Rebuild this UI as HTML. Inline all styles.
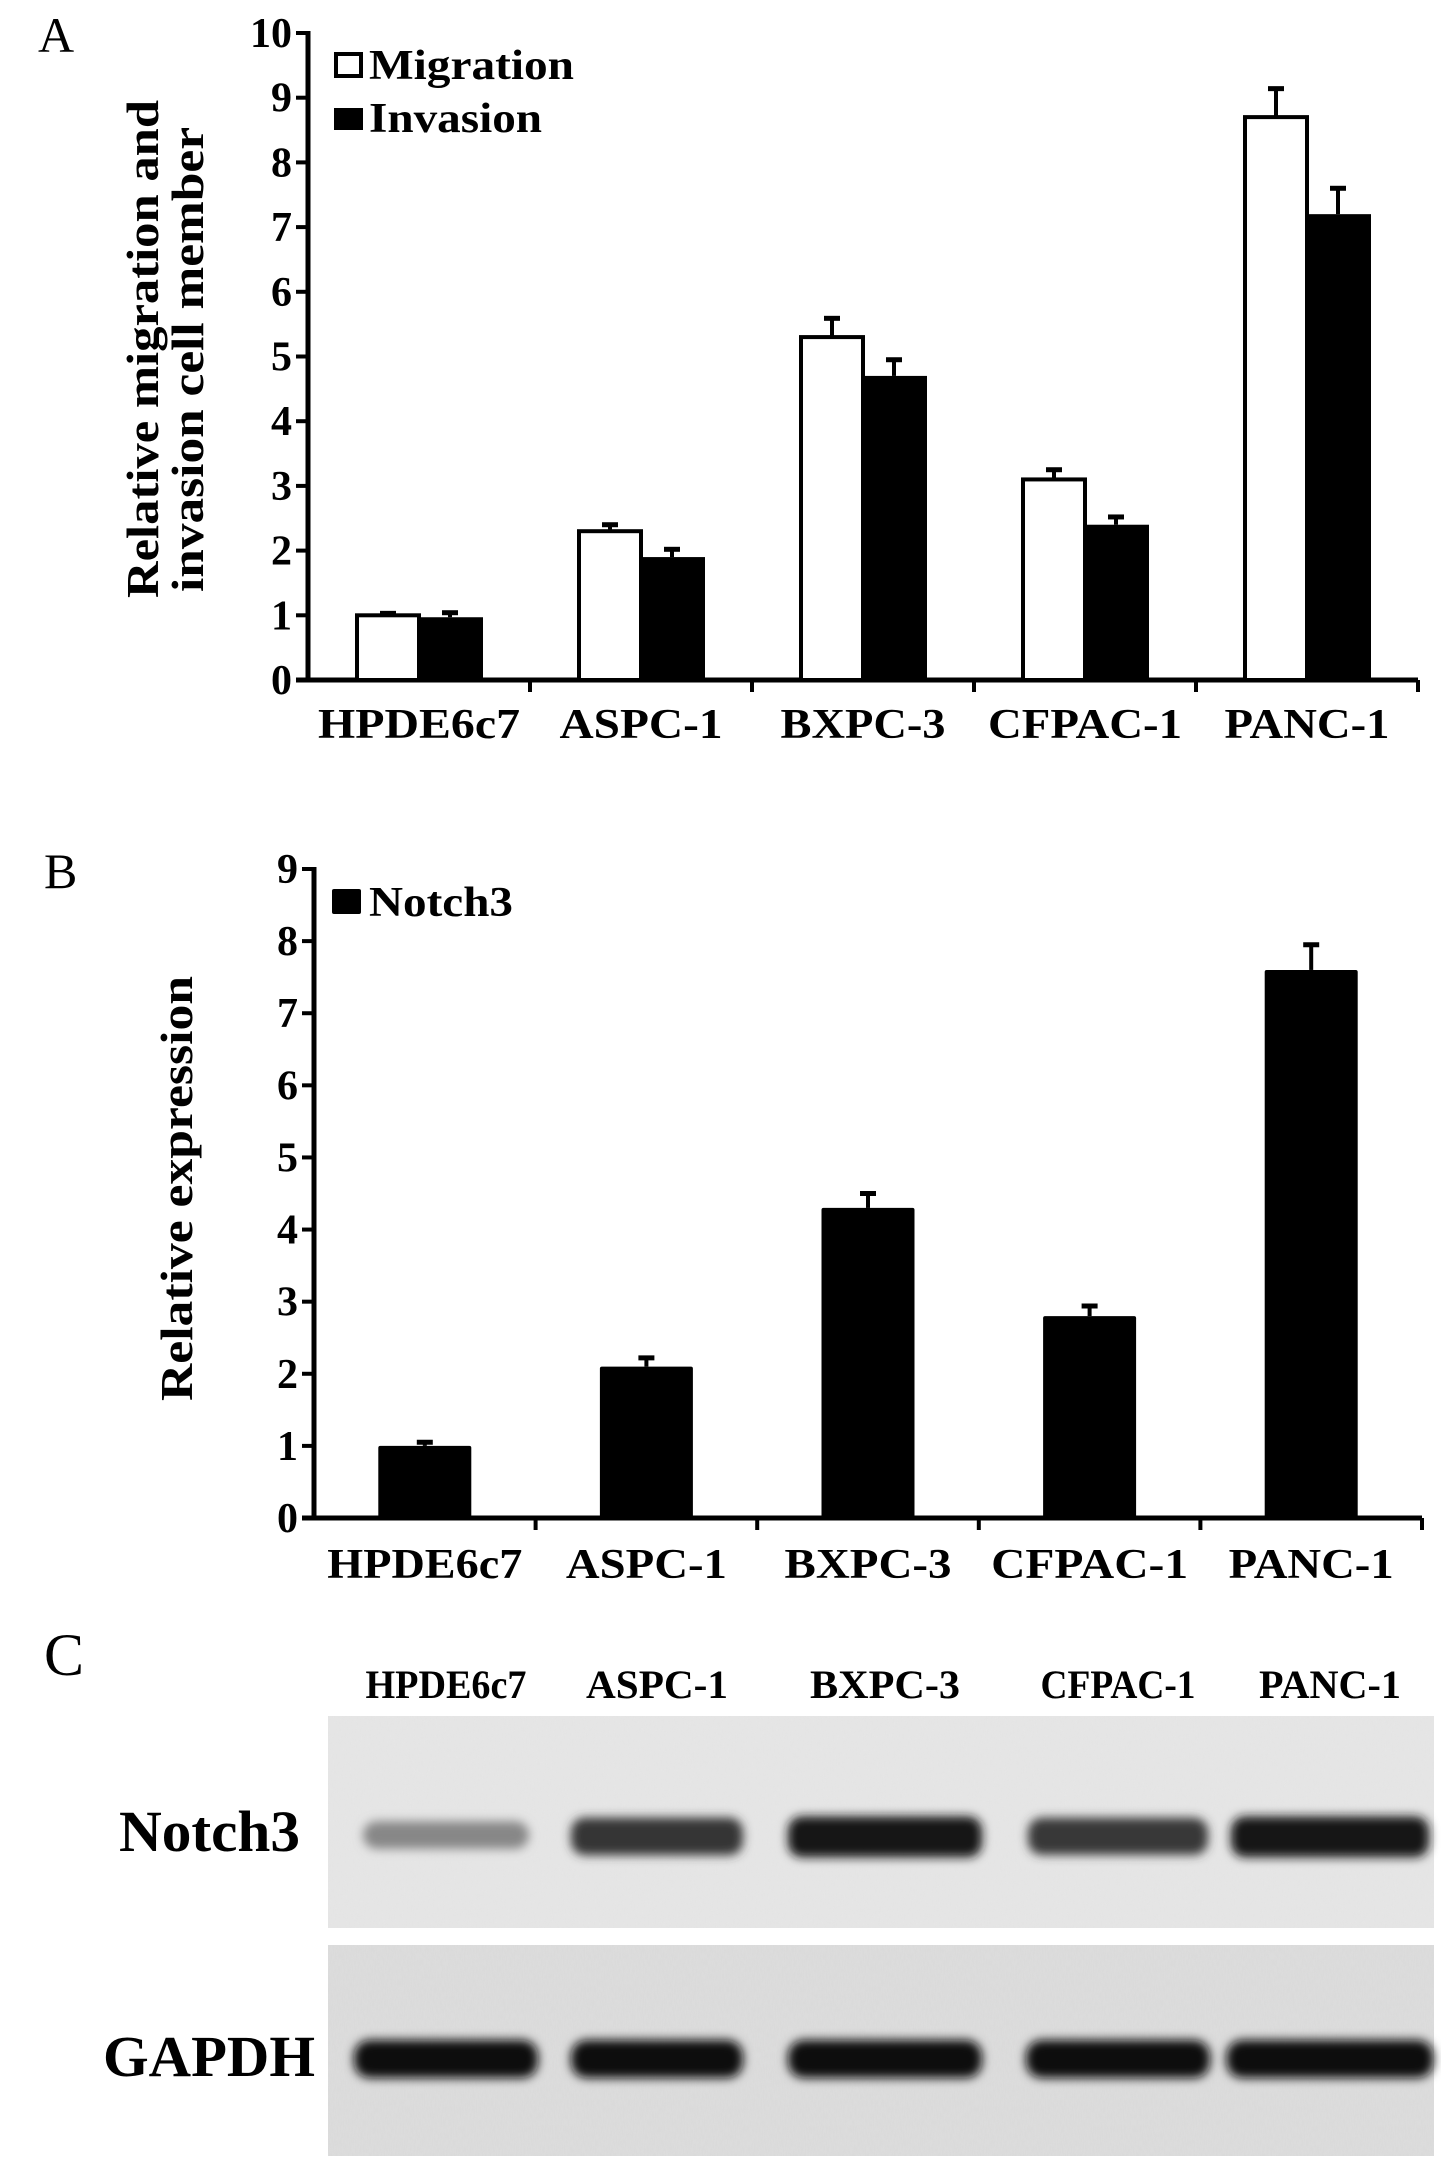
<!DOCTYPE html>
<html><head><meta charset="utf-8">
<style>
html,body{margin:0;padding:0;background:#fff;}
svg{display:block;font-family:"Liberation Serif",serif;}
</style></head>
<body>
<svg id="fig" width="1441" height="2170" viewBox="0 0 1441 2170">
<defs>
  <filter id="blur" x="-20%" y="-60%" width="140%" height="220%"><feGaussianBlur stdDeviation="5"/></filter>
  <filter id="noise" x="0" y="0" width="100%" height="100%"><feTurbulence type="fractalNoise" baseFrequency="0.9 0.15" numOctaves="2" seed="3"/><feColorMatrix type="matrix" values="0 0 0 0 0.85  0 0 0 0 0.85  0 0 0 0 0.85  0 0 0 0.35 0"/></filter>
</defs>
<g id="chartA"></g>
<g id="chartB"></g>
<g id="panelC"></g>
</svg>
<script>
const categories = ["HPDE6c7","ASPC-1","BXPC-3","CFPAC-1","PANC-1"];
const migration = [1.0, 2.3, 5.3, 3.1, 8.7];
const migrationErr = [0.03, 0.1, 0.29, 0.15, 0.44];
const invasion = [0.97, 1.9, 4.7, 2.4, 7.2];
const invasionErr = [0.07, 0.12, 0.25, 0.12, 0.4];
const ticksA = [0,1,2,3,4,5,6,7,8,9,10];
const notch3 = [1.0, 2.1, 4.3, 2.8, 7.6];
const notch3Err = [0.05, 0.12, 0.2, 0.14, 0.35];
const ticksB = [0,1,2,3,4,5,6,7,8,9];
const notchBand = [0.35, 0.8, 0.95, 0.78, 0.95];
const gapdhBand = [1, 1, 1, 1, 1];

const NS = "http://www.w3.org/2000/svg";
function el(tag, attrs, parent, text){
  const e = document.createElementNS(NS, tag);
  for (const k in attrs) e.setAttribute(k, attrs[k]);
  if (text !== undefined) e.textContent = text;
  parent.appendChild(e);
  return e;
}

function drawAxes(g, x0, x1, yTop, y0, ticks, yScale){
  const yAxis = el("line",{x1:x0,y1:yTop-2,x2:x0,y2:y0+2,stroke:"#000","stroke-width":5},g);
  
  
  const xAxis = el("line",{x1:x0-12,y1:y0,x2:x1,y2:y0,stroke:"#000","stroke-width":5},g);
  
  
  ticks.forEach(t=>{
    const y = yScale(t);
    el("line",{x1:x0-12,y1:y,x2:x0,y2:y,stroke:"#000","stroke-width":4},g);
    const lb = el("text",{x:x0-16,y:y+14,"text-anchor":"end","font-size":42,"font-weight":"bold"},g,String(t));
    
    
  });
  const cw = (x1-x0)/categories.length;
  for(let i=1;i<=categories.length;i++){
    const x = x0+cw*i;
    el("line",{x1:x,y1:y0,x2:x,y2:y0+12,stroke:"#000","stroke-width":4},g);
  }
  return cw;
}

function errBar(g, cx, yTopBar, yErr){
  el("line",{x1:cx,y1:yTopBar,x2:cx,y2:yErr,stroke:"#000","stroke-width":4},g);
  el("line",{x1:cx-8,y1:yErr,x2:cx+8,y2:yErr,stroke:"#000","stroke-width":5},g);
}

function catLabel(g, cx, y, text, len){
  const xl = el("text",{x:cx-len/2,y:y,"font-size":42,"font-weight":"bold",textLength:len,lengthAdjust:"spacingAndGlyphs"},g,text);
  
  
}

/* ---------- Chart A ---------- */
(function(){
  const g = document.getElementById("chartA");
  const x0=308, x1=1418, yTop=33, y0=680;
  const yScale = v => y0 - v*(y0-yTop)/10;
  const lA = el("text",{x:38,y:52,"font-size":50},g,"A");
  
  
  const cw = drawAxes(g,x0,x1,yTop,y0,ticksA,yScale);
  const bw = 62;
  const lens = [202,163,165,194,165];
  categories.forEach((c,i)=>{
    const cx = x0+cw*(i+0.5);
    const ym = yScale(migration[i]);
    errBar(g, cx-bw/2, ym, yScale(migration[i]+migrationErr[i]));
    const bm = el("rect",{x:cx-bw,y:ym,width:bw,height:y0-ym,fill:"#fff",stroke:"#000","stroke-width":4},g);
    
    
    const yi = yScale(invasion[i]);
    errBar(g, cx+bw/2, yi, yScale(invasion[i]+invasionErr[i]));
    const bi = el("rect",{x:cx,y:yi,width:bw+2,height:y0-yi,fill:"#000"},g);
    
    
    catLabel(g, cx, 738, c, lens[i]);
  });
  const lg1 = el("g",{},g);
  
  
  el("rect",{x:336,y:54,width:25,height:22,fill:"#fff",stroke:"#000","stroke-width":4},lg1);
  el("text",{x:369,y:79,"font-size":42,"font-weight":"bold",textLength:205,lengthAdjust:"spacingAndGlyphs"},lg1,"Migration");
  const lg2 = el("g",{},g);
  
  
  el("rect",{x:334,y:108,width:29,height:22,fill:"#000"},lg2);
  el("text",{x:369,y:132,"font-size":42,"font-weight":"bold",textLength:173,lengthAdjust:"spacingAndGlyphs"},lg2,"Invasion");
  const yt = el("text",{transform:"translate(0,0) rotate(-90)","font-size":46,"font-weight":"bold"},g);
  
  
  el("tspan",{x:-598,y:158,textLength:498,lengthAdjust:"spacingAndGlyphs"},yt,"Relative migration and");
  el("tspan",{x:-592,y:203,textLength:465,lengthAdjust:"spacingAndGlyphs"},yt,"invasion cell member");
})();

/* ---------- Chart B ---------- */
(function(){
  const g = document.getElementById("chartB");
  const x0=314, x1=1422, yTop=869, y0=1518;
  const yScale = v => y0 - v*(y0-yTop)/9;
  const lB = el("text",{x:44,y:888,"font-size":50},g,"B");
  
  
  const cw = drawAxes(g,x0,x1,yTop,y0,ticksB,yScale);
  const bw = 93;
  const lens = [195,161,167,197,165];
  categories.forEach((c,i)=>{
    const cx = x0+cw*(i+0.5);
    const yv = yScale(notch3[i]);
    errBar(g, cx, yv, yScale(notch3[i]+notch3Err[i]));
    const b = el("rect",{x:cx-bw/2,y:yv,width:bw,height:y0-yv,fill:"#000",rx:2},g);
    
    
    catLabel(g, cx, 1578, c, lens[i]);
  });
  const lg = el("g",{},g);
  
  
  el("rect",{x:332,y:889,width:29,height:25,fill:"#000",rx:2},lg);
  el("text",{x:369,y:916,"font-size":42,"font-weight":"bold",textLength:144,lengthAdjust:"spacingAndGlyphs"},lg,"Notch3");
  const yt = el("text",{transform:"rotate(-90)",x:-1401,y:192,"font-size":46,"font-weight":"bold",textLength:425,lengthAdjust:"spacingAndGlyphs"},g,"Relative expression");
  
  
})();

/* ---------- Panel C ---------- */
(function(){
  const g = document.getElementById("panelC");
  const lC = el("text",{x:44,y:1675,"font-size":60},g,"C");
  
  
  const laneCenters = [446, 657, 885, 1118, 1330];
  const laneWidths = [161, 142, 150, 155, 142];
  categories.forEach((c,i)=>{
    const t = el("text",{x:laneCenters[i]-laneWidths[i]/2,y:1698,"font-size":40,"font-weight":"bold",textLength:laneWidths[i],lengthAdjust:"spacingAndGlyphs"},g,c);
    
    
  });
  const blot1 = el("g",{},g);
  
  
  el("rect",{x:328,y:1716,width:1106,height:212,fill:"#e4e4e4"},blot1);
  el("rect",{x:328,y:1716,width:1106,height:212,filter:"url(#noise)",opacity:0.6},blot1);
  const blot2 = el("g",{},g);
  
  
  el("rect",{x:328,y:1945,width:1106,height:211,fill:"#d9d9d9"},blot2);
  el("rect",{x:328,y:1945,width:1106,height:211,filter:"url(#noise)",opacity:0.6},blot2);
  const bandW = [166, 172, 194, 180, 198];
  const gBandW = [184, 172, 194, 184, 207];
  notchBand.forEach((v,i)=>{
    const shade = Math.round(200 - v*185);
    const b = el("rect",{x:laneCenters[i]-bandW[i]/2,y:1816+(1-v)*8,width:bandW[i],height:20+v*22,rx:14,fill:`rgb(${shade},${shade},${shade})`,filter:"url(#blur)"},blot1);
    
    
  });
  gapdhBand.forEach((v,i)=>{
    const shade = Math.round(200 - v*185);
    const b = el("rect",{x:laneCenters[i]-gBandW[i]/2,y:2040,width:gBandW[i],height:38*v,rx:16,fill:`rgb(${shade},${shade},${shade})`,filter:"url(#blur)"},blot2);
    
    
  });
  const n = el("text",{x:119,y:1851,"font-size":58,"font-weight":"bold",textLength:181,lengthAdjust:"spacingAndGlyphs"},g,"Notch3");
  
  
  const gp = el("text",{x:103,y:2076,"font-size":58,"font-weight":"bold",textLength:212,lengthAdjust:"spacingAndGlyphs"},g,"GAPDH");
  
  
})();
</script>
</body></html>
